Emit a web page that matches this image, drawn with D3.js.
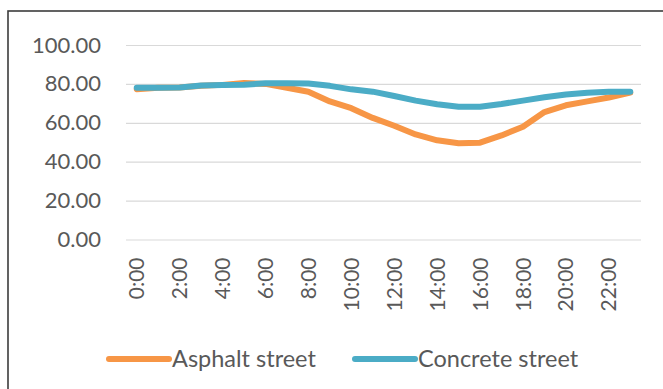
<!DOCTYPE html>
<html>
<head>
<meta charset="utf-8">
<script src="https://cdn.jsdelivr.net/npm/d3@7"></script>
<style>
  body { margin: 0; background: #fff; }
  text { font-family: Lato, "Open Sans", sans-serif; fill: #595959; }
</style>
</head>
<body>
<svg id="chart" width="663" height="389"></svg>
<script>
// hourly values
var hours = d3.range(24).map(h => h + ":00");
var asphalt = [77.3, 78, 78.2, 79, 79.5, 80.5, 80, 78, 76, 71, 67.5, 62.5, 58.5, 54, 51, 49.5, 49.8, 53.5, 58, 65.5, 69, 71, 73, 75.5];
var concrete = [78, 78, 78.2, 79.2, 79.4, 79.6, 80.3, 80.3, 80.2, 79, 77.2, 76, 73.8, 71.4, 69.5, 68.2, 68.3, 69.7, 71.4, 73.1, 74.6, 75.5, 76, 76];
var yTicks = [0, 20, 40, 60, 80, 100];
var seriesNames = ["Asphalt street", "Concrete street"];
var colors = ["#F79646", "#4BACC6"];

var svg = d3.select("#chart");
// plot box (note: "top" is taken by window.top, so use other names)
var plotLeft = 126, plotRight = 641, plotTop = 45, plotBottom = 239.5;

// outer frame (runs off right and bottom edges like the screenshot)
svg.append("rect")
  .attr("x", 8).attr("y", 11)
  .attr("width", 700).attr("height", 420)
  .attr("fill", "none")
  .attr("stroke", "#3c3c3c")
  .attr("stroke-width", 1.6);

var x = d3.scaleBand().domain(hours).range([plotLeft, plotRight]);
var y = d3.scaleLinear().domain([0, 100]).range([plotBottom, plotTop]);

// y axis + gridlines
var yAxis = svg.append("g")
  .attr("transform", "translate(" + plotLeft + ",0)")
  .call(d3.axisLeft(y)
    .tickValues(yTicks)
    .tickSize(-(plotRight - plotLeft))
    .tickPadding(25)
    .tickFormat(d3.format(".2f")));
yAxis.select(".domain").remove();
yAxis.selectAll("line").attr("stroke", "#d9d9d9").attr("stroke-width", 1.2);
yAxis.selectAll("text")
  .style("font-size", "22px")
  .attr("fill", "#595959");

// x axis labels, every second hour, rotated
var xAxis = svg.append("g")
  .attr("transform", "translate(0," + plotBottom + ")")
  .call(d3.axisBottom(x)
    .tickValues(hours.filter((d, i) => i % 2 == 0))
    .tickSize(0));
xAxis.select(".domain").remove();
xAxis.selectAll("text")
  .style("font-size", "21px")
  .attr("fill", "#595959")
  .attr("transform", "rotate(-90)")
  .attr("text-anchor", "end")
  .attr("x", -18)
  .attr("y", 0)
  .attr("dy", "0.36em");

var line = d3.line()
  .x((d, i) => x(hours[i]) + x.bandwidth() / 2)
  .y(d => y(d));

[asphalt, concrete].forEach(function(series, i) {
  svg.append("path")
    .datum(series)
    .attr("d", line)
    .attr("fill", "none")
    .attr("stroke", colors[i])
    .attr("stroke-width", 6)
    .attr("stroke-linejoin", "round")
    .attr("stroke-linecap", "round");
});

// legend
var legendX = [109, 355];
var legend = svg.append("g");
seriesNames.forEach(function(name, i) {
  var g = legend.append("g").attr("transform", "translate(" + legendX[i] + ",359)");
  g.append("line")
    .attr("x1", 0).attr("x2", 60)
    .attr("stroke", colors[i])
    .attr("stroke-width", 6)
    .attr("stroke-linecap", "round");
  g.append("text")
    .attr("x", 63)
    .attr("dy", "0.35em")
    .style("font-size", "23.5px")
    .text(name);
});
</script>
</body>
</html>
